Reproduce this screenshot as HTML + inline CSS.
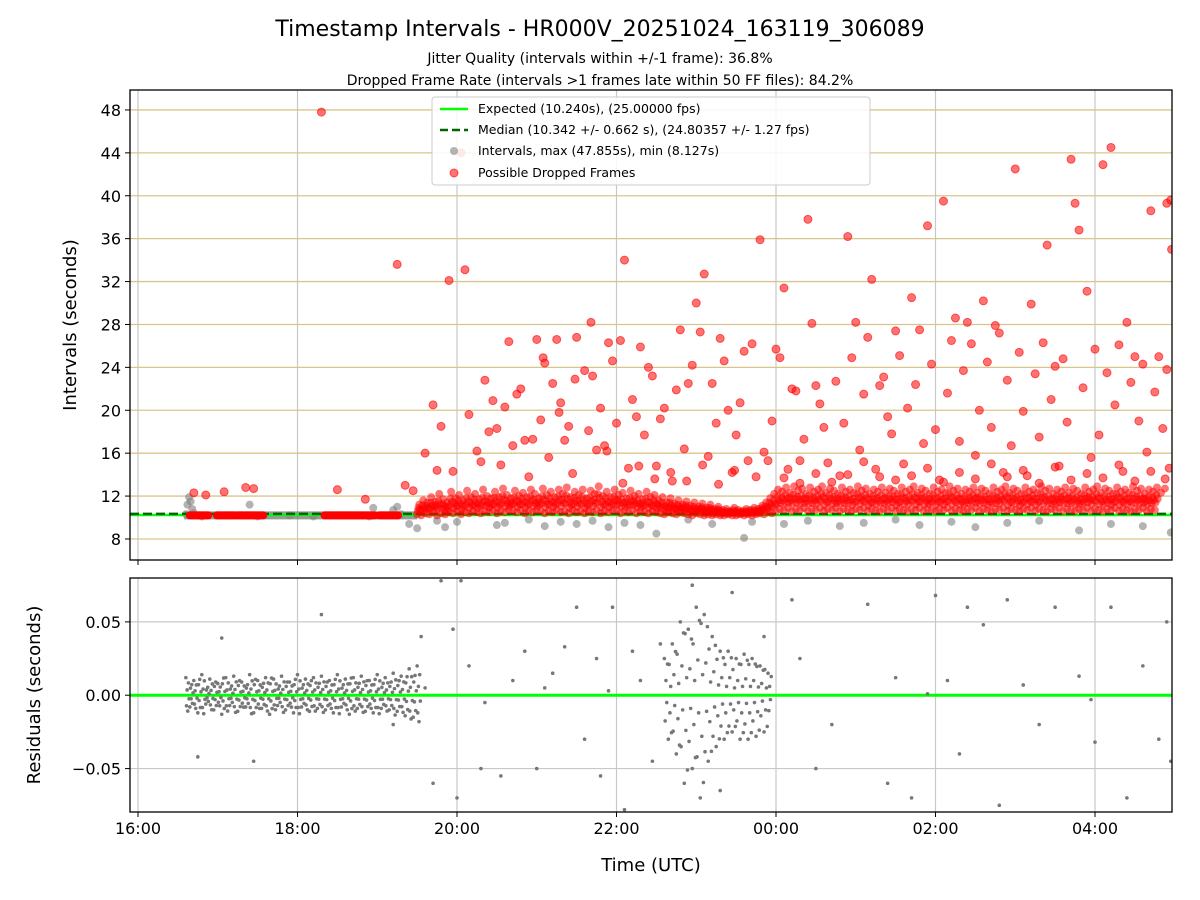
<!DOCTYPE html>
<html><head><meta charset="utf-8"><style>
body{margin:0;background:#fff;}
svg{display:block;font-family:"DejaVu Sans","Liberation Sans",sans-serif;}
</style></head><body>
<svg id="c" width="1200" height="900" viewBox="0 0 1200 900" xmlns="http://www.w3.org/2000/svg">
<rect width="1200" height="900" fill="#fff"/>
<text x="600" y="36" text-anchor="middle" font-size="22">Timestamp Intervals - HR000V_20251024_163119_306089</text>
<text x="600" y="63" text-anchor="middle" font-size="14">Jitter Quality (intervals within +/-1 frame): 36.8%</text>
<text x="600" y="85" text-anchor="middle" font-size="14">Dropped Frame Rate (intervals &gt;1 frames late within 50 FF files): 84.2%</text>
<g id="gtop"></g><g id="gbot"></g>
</svg>
<script>
// time in hours after 16:00 UTC
const xTickLabels=["16:00","18:00","20:00","22:00","00:00","02:00","04:00"];
const xTickHours=[0,2,4,6,8,10,12];
const yTopTicks=[8,12,16,20,24,28,32,36,40,44,48];
const yBotTicks=[-0.05,0.00,0.05];
const yBotLabels=["\u22120.05","0.00","0.05"];
const expected=10.24, median=10.342;
const segStart=[0.65,0.99,1.25,2.34,3.03];
const segEnd=[0.88,1.22,1.57,2.97,3.26];
const dropT=[2.3,3.25,3.9,4.1,4.05,3.7,3.8,4.3,4.4,4.6,4.8,5.0,5.1,5.2,5.4,5.5,5.7,5.9,6.1,6.2,6.4,6.6,6.8,6.9,7.0,7.1,7.3,7.4,7.6,7.8,8.0,8.1,8.2,8.4,8.6,8.9,9.0,9.2,9.3,9.5,9.7,9.9,10.1,10.2,10.4,10.6,10.8,11.0,11.2,11.4,11.5,11.7,11.75,11.8,11.9,12.1,12.2,12.4,12.5,12.7,12.9,12.95,12.96,
0.7,0.85,1.35,1.45,1.08,2.5,2.85,3.35,3.45,3.6,3.75,3.95,4.15,4.25,4.35,4.5,4.55,4.7,4.75,4.9,4.95,5.05,5.15,5.25,5.3,5.35,5.45,5.6,5.65,5.75,5.8,5.85,5.95,6.0,6.05,6.15,6.25,6.3,6.35,6.45,6.5,6.55,6.7,6.75,6.85,6.95,7.05,7.15,7.2,7.25,7.35,7.45,7.5,7.55,7.65,7.7,7.75,7.85,7.9,7.95,8.05,8.15,8.25,8.3,8.35,8.45,8.5,8.55,8.65,8.75,8.8,8.85,8.95,9.05,9.1,9.15,9.25,9.35,9.4,9.45,9.55,9.6,9.65,9.75,9.8,9.85,9.95,10.0,10.05,10.15,10.25,10.3,10.35,10.45,10.5,10.55,10.65,10.7,10.75,10.85,10.9,10.95,11.05,11.1,11.15,11.25,11.3,11.35,11.45,11.55,11.6,11.65,11.85,11.95,12.0,12.05,12.15,12.25,12.3,12.35,12.45,12.55,12.6,12.65,12.75,12.8,12.85,12.9,12.93,
4.45,4.65,4.85,5.08,5.28,5.48,5.68,5.88,6.08,6.28,6.48,6.68,6.88,7.08,7.28,7.48,8.1,8.3,8.5,8.7,8.9,9.1,9.3,9.5,9.7,9.9,10.1,10.3,10.5,10.7,10.9,11.1,11.3,11.5,11.7,11.9,12.1,12.3,12.5,12.7,12.88];
const dropV=[47.8,33.6,32.1,33.1,44,20.5,18.5,15.2,18,20.3,22,26.6,24.4,22.5,18.5,26.8,23.2,26.3,34,21,24,20.2,27.5,22.5,30,32.7,26.7,20,25.5,35.9,25.7,31.4,22,37.8,18.4,36.2,28.2,32.2,22.3,27.4,30.5,37.2,39.5,26.5,28.2,30.2,27.2,42.5,29.9,35.4,24.1,43.4,39.3,36.8,31.1,42.9,44.5,28.2,25,38.6,39.3,39.6,35,
12.3,12.1,12.8,12.7,12.4,12.6,11.7,13,12.5,16,14.4,14.3,19.6,16.2,22.8,18.3,14.9,16.7,21.5,13.8,17.3,19.1,15.6,26.6,20.7,17.2,14.1,23.7,18.1,16.3,20.2,16.7,24.6,18.8,26.5,14.6,19.4,25.9,17.7,23.2,14.8,19.2,13.4,21.9,16.4,24.2,27.3,15.7,22.5,18.8,24.6,14.2,17.7,20.7,15.3,26.2,13.8,16.1,15.3,19,24.9,14.5,21.8,13.2,17.3,28.1,22.3,20.6,15.1,22.7,13.9,18.8,24.9,16.3,21.5,26.8,14.5,23.1,19.4,17.8,25.1,15,20.2,22.4,27.5,16.9,24.3,18.2,13.5,21.6,28.6,17.1,23.7,26.2,15.8,20,24.5,18.4,27.9,14.2,22.8,16.7,25.4,19.9,13.9,23.4,17.5,26.3,21,14.8,24.8,18.9,22.1,15.6,25.7,17.7,23.5,20.5,26.1,14.3,22.6,19,24.3,16.1,21.7,25,18.3,23.8,14.6,20.9,26.4,17.2,24.9,19.8,22.9,28.2,16.2,
13.2,14.8,13.6,14.2,13.4,14.9,13.1,14.4,13.7,15.3,14.1,13.3,14,15.2,13.8,13.5,13.9,14.6,13.3,14.2,13.6,15,13.8,14.4,13.2,14.7,13.5,14.1,13.7,14.9,13.4,14.3,13.6,14.8,13.9,14.5,13.3,14.2,13.8,14.6,13.5];
const bandSrcT=[3.5,3.55,3.6,3.65,3.7,3.75,3.8,3.85,3.9,3.95,4.0,4.05,4.1,4.15,4.2,4.25,4.3,4.35,4.4,4.45,4.5,4.55,4.6,4.65,4.7,4.75,4.8,4.85,4.9,4.95,5.0,5.05,5.1,5.15,5.2,5.25,5.3,5.35,5.4,5.45,5.5,5.55,5.6,5.65,5.7,5.75,5.8,5.85,5.9,5.95,6.0,6.05,6.1,6.15,6.2,6.25,6.3,6.35,6.4,6.45,6.5,6.55,6.6,6.65,6.7,6.75,6.8,6.85,6.9,6.95,7.0,7.05,7.1,7.15,7.2,7.25,7.3,7.35,7.4,7.45,7.5,7.55,7.6,7.65,7.7,7.75,7.8,7.85,7.9,7.95,8.0,8.05,8.1,8.15,8.2,8.25,8.3,8.35,8.4,8.45,8.5,8.55,8.6,8.65,8.7,8.75,8.8,8.85,8.9,8.95,9.0,9.05,9.1,9.15,9.2,9.25,9.3,9.35,9.4,9.45,9.5,9.55,9.6,9.65,9.7,9.75,9.8,9.85,9.9,9.95,10.0,10.05,10.1,10.15,10.2,10.25,10.3,10.35,10.4,10.45,10.5,10.55,10.6,10.65,10.7,10.75,10.8,10.85,10.9,10.95,11.0,11.05,11.1,11.15,11.2,11.25,11.3,11.35,11.4,11.45,11.5,11.55,11.6,11.65,11.7,11.75,11.8,11.85,11.9,11.95,12.0,12.05,12.1,12.15,12.2,12.25,12.3,12.35,12.4,12.45,12.5,12.55,12.6,12.65,12.7,12.75,12.8,12.85,12.9,12.95];
const bandLo=[10.3,10.2,10.4,10.3,10.5,10.2,10.4,10.3,10.5,10.4,10.6,10.3,10.5,10.4,10.6,10.5,10.4,10.6,10.5,10.7,10.4,10.6,10.5,10.7,10.6,10.5,10.7,10.4,10.6,10.5,10.7,10.6,10.4,10.6,10.5,10.7,10.5,10.6,10.4,10.7,10.5,10.6,10.4,10.6,10.5,10.7,10.4,10.6,10.5,10.6,10.7,10.4,10.6,10.5,10.7,10.4,10.6,10.5,10.4,10.6,10.5,10.4,10.3,10.5,10.4,10.3,10.5,10.4,10.3,10.2,10.4,10.3,10.2,10.3,10.2,10.3,10.2,10.2,10.3,10.2,10.2,10.3,10.2,10.3,10.2,10.3,10.4,10.3,10.5,10.4,10.6,10.8,10.7,10.9,10.6,10.8,10.7,10.9,10.6,10.8,10.7,10.9,10.6,10.8,10.7,10.9,10.6,10.8,10.7,10.6,10.8,10.7,10.9,10.6,10.8,10.7,10.6,10.8,10.7,10.9,10.6,10.8,10.7,10.6,10.8,10.7,10.9,10.6,10.8,10.7,10.6,10.8,10.7,10.9,10.6,10.8,10.7,10.6,10.8,10.7,10.9,10.6,10.8,10.7,10.6,10.8,10.7,10.9,10.6,10.8,10.7,10.6,10.8,10.7,10.9,10.6,10.8,10.7,10.6,10.8,10.7,10.9,10.6,10.8,10.7,10.6,10.8,10.7,10.9,10.6,10.8,10.7,10.6,10.8,10.7,10.9,10.6,10.8,10.7,10.6,10.8,10.7,10.9,10.6,10.8,10.7];
const bandHi=[11.2,11.6,11.4,11.9,11.5,12.2,11.7,11.4,12.4,11.8,12.1,11.6,12.5,11.9,12.2,11.7,12.6,12,11.8,12.4,11.9,12.7,12.1,11.8,12.5,12,12.3,11.9,12.6,12.2,11.8,12.7,12.1,12.4,11.9,12.6,12.2,12.8,11.9,12.4,12.1,12.6,11.8,12.5,12.2,12.9,12,12.4,11.9,12.6,12.1,12.3,11.8,12.5,12,12.2,11.7,12.4,11.9,12.1,11.6,11.9,11.4,11.8,11.3,11.6,11.2,11.5,11.1,11.4,11,11.3,10.9,11.2,10.8,11,10.7,10.8,10.6,10.9,10.7,10.6,10.8,10.7,10.9,10.8,11.1,11.4,11.8,12.2,12.6,12.4,12.8,12.3,12.9,12.5,12.7,12.2,12.8,12.4,12.6,12.9,12.3,12.7,12.5,12.2,12.8,12.4,12.6,12.3,12.9,12.5,12.7,12.2,12.6,12.4,12.8,12.3,12.7,12.5,12.2,12.8,12.4,12.6,12.9,12.3,12.7,12.5,12.2,12.8,12.4,12.6,12.3,12.9,12.5,12.7,12.2,12.6,12.4,12.8,12.3,12.7,12.5,12.2,12.8,12.4,12.6,12.9,12.3,12.7,12.5,12.2,12.8,12.4,12.6,12.3,12.9,12.5,12.7,12.2,12.6,12.4,12.8,12.3,12.7,12.5,12.2,12.8,12.4,12.6,12.9,12.3,12.7,12.5,12.2,12.8,12.4,12.6,12.3,12.9,12.5,12.7,12.2,12.6,12.4,12.8,12.3,12.7];
const grayT=[0.6,0.62,0.64,0.66,0.68,0.7,1.4,2.55,2.95,3.0,3.2,3.25,3.3,3.4,3.5,3.75,3.85,4.0,4.5,4.6,4.9,5.1,5.3,5.5,5.7,5.9,6.1,6.3,6.5,6.9,7.2,7.6,7.7,8.1,8.4,8.8,9.1,9.5,9.8,10.2,10.5,10.9,11.3,11.8,12.2,12.6,12.95,0.8,1.1,1.5,1.9,2.2,2.6,2.9];
const grayV=[10.3,11.2,11.9,11.5,10.8,10.4,11.2,10.2,10.9,10.2,10.7,11,10.3,9.4,9,9.7,9.1,9.6,9.3,9.5,9.8,9.2,9.6,9.4,9.7,9.1,9.5,9.3,8.5,9.8,9.4,8.1,9.6,9.4,9.7,9.2,9.5,9.8,9.3,9.6,9.1,9.5,9.7,8.8,9.4,9.2,8.6,10.1,10.2,10.1,10.2,10.1,10.2,10.1];
const resT=[0.6,0.65,0.7,0.75,0.8,0.85,0.9,0.95,1.0,1.05,1.1,1.15,1.2,1.25,1.3,1.35,1.4,1.45,1.5,1.55,1.6,1.65,1.7,1.75,1.8,1.85,1.9,1.95,2.0,2.05,2.1,2.15,2.2,2.25,2.3,2.35,2.4,2.45,2.5,2.55,2.6,2.65,2.7,2.75,2.8,2.85,2.9,2.95,3.0,3.05,3.1,3.15,3.2,3.25,3.3,3.35,3.4,3.45,3.5];
const resA=[0.012,-0.008,0.01,-0.012,0.014,-0.006,0.011,-0.01,0.008,-0.013,0.012,-0.007,0.013,-0.011,0.009,-0.008,0.014,-0.012,0.01,-0.009,0.012,-0.013,0.011,-0.007,0.013,-0.01,0.009,-0.012,0.014,-0.008,0.011,-0.011,0.012,-0.009,0.013,-0.01,0.01,-0.012,0.014,-0.008,0.011,-0.013,0.012,-0.009,0.013,-0.011,0.01,-0.012,0.014,-0.009,0.012,-0.01,0.015,-0.011,0.013,-0.014,0.018,-0.015,0.02];
const res2T=[6.6,6.65,6.7,6.75,6.8,6.85,6.9,6.95,7.0,7.05,7.1,7.15,7.2,7.25,7.3,7.35,7.4,7.45,7.5,7.55,7.6,7.65,7.7,7.75,7.8,7.85,7.9];
const res2A=[0.025,-0.03,0.035,-0.04,0.05,-0.06,0.045,-0.05,0.06,-0.07,0.055,-0.045,0.04,-0.035,0.03,-0.03,0.03,-0.025,0.025,-0.03,0.028,-0.03,0.025,-0.028,0.02,-0.025,0.015];
const scatT=[0.75,1.05,1.45,2.3,3.2,3.55,3.7,3.8,3.95,4.0,4.05,4.15,4.3,4.55,4.7,4.85,5.0,5.2,5.35,5.5,5.6,5.75,5.8,5.95,6.1,6.2,6.3,6.45,6.55,6.95,7.3,7.45,7.85,8.2,8.5,8.7,9.15,9.4,9.5,9.7,10.0,10.15,10.3,10.4,10.8,10.9,11.1,11.3,11.5,11.8,12.0,12.2,12.4,12.6,12.8,12.9,12.95,3.6,4.35,5.1,5.9,9.9,11.95,8.3,10.6];
const scatV=[-0.042,0.039,-0.045,0.055,-0.02,0.04,-0.06,0.078,0.045,-0.07,0.078,0.02,-0.05,-0.055,0.01,0.03,-0.05,0.015,0.033,0.06,-0.03,0.025,-0.055,0.06,-0.078,0.03,0.01,-0.045,0.035,0.075,-0.065,0.07,0.04,0.065,-0.05,-0.02,0.062,-0.06,0.012,-0.07,0.068,0.01,-0.04,0.06,-0.075,0.065,0.007,-0.02,0.06,0.013,-0.032,0.06,-0.07,0.02,-0.03,0.05,-0.045,0.005,-0.005,0.005,0.003,0.001,-0.003,0.025,0.048];

const NS="http://www.w3.org/2000/svg";
const L=130,R=1172,T1=90,B1=560,T2=578,B2=812;
const tMin=-8/79.75, tMax=tMin+(R-L)/79.75;
const x=t=>L+(t-tMin)*(R-L)/(tMax-tMin);
const y1=v=>B1-(v-6.04)*(B1-T1)/(49.86-6.04);
const y2=v=>B2-(v+0.0796)*(B2-T2)/(0.1595);
function mk(p,tag,a){const e=document.createElementNS(NS,tag);for(const k in a)e.setAttribute(k,a[k]);p.appendChild(e);return e;}
const gTop=document.getElementById('gtop'), gBot=document.getElementById('gbot');
const svgDefs=mk(document.getElementById('c'),'defs',{});
const c1=mk(svgDefs,'clipPath',{id:'cl1'});mk(c1,'rect',{x:L,y:T1,width:R-L,height:B1-T1});
const c2=mk(svgDefs,'clipPath',{id:'cl2'});mk(c2,'rect',{x:L,y:T2,width:R-L,height:B2-T2});
xTickHours.forEach((h,i)=>{
 [[T1,B1,gTop],[T2,B2,gBot]].forEach(([a,b,g])=>{
  const ln=mk(g,'line',{x1:x(h),x2:x(h),y1:a,y2:b,stroke:'#c8c8c8','stroke-width':1.2});
  
  
  const tk=mk(g,'line',{x1:x(h),x2:x(h),y1:b,y2:b+5,stroke:'#000'});
  
  
 });
 const tx=mk(gBot,'text',{x:x(h),y:B2+22,'text-anchor':'middle','font-size':16});tx.textContent=xTickLabels[i];
 
 
});
yTopTicks.forEach(v=>{
 const ln=mk(gTop,'line',{x1:L,x2:R,y1:y1(v),y2:y1(v),stroke:'#d9c58c','stroke-width':1.3});
 
 
 mk(gTop,'line',{x1:L-5,x2:L,y1:y1(v),y2:y1(v),stroke:'#000'});
 const tx=mk(gTop,'text',{x:L-9,y:y1(v)+6,'text-anchor':'end','font-size':16});tx.textContent=v;
 
 
});
yBotTicks.forEach((v,i)=>{
 const ln=mk(gBot,'line',{x1:L,x2:R,y1:y2(v),y2:y2(v),stroke:'#c8c8c8','stroke-width':1.2});
 
 
 mk(gBot,'line',{x1:L-5,x2:L,y1:y2(v),y2:y2(v),stroke:'#000'});
 const tx=mk(gBot,'text',{x:L-9,y:y2(v)+6,'text-anchor':'end','font-size':16});tx.textContent=yBotLabels[i];
 
 
});
const g1=mk(gTop,'g',{'clip-path':'url(#cl1)'});


const g2=mk(gBot,'g',{'clip-path':'url(#cl2)'});


grayT.forEach((t,i)=>{const c=mk(g1,'circle',{cx:x(t),cy:y1(grayV[i]),r:4,fill:'rgba(128,128,128,0.6)'});
 
 });
const gb=mk(g1,'line',{x1:x(0.58),x2:x(3.5),y1:y1(10.2),y2:y1(10.2),stroke:'rgba(128,128,128,0.8)','stroke-width':8});


const el=mk(g1,'line',{x1:L,x2:R,y1:y1(expected),y2:y1(expected),stroke:'#00ff00','stroke-width':2.5});


const ml=mk(g1,'line',{x1:L,x2:R,y1:y1(median),y2:y1(median),stroke:'#006400','stroke-width':2.5,'stroke-dasharray':'9,4'});


bandSrcT.forEach((t,i)=>{
 const lo=bandLo[i],hi=bandHi[i];
 [lo,(lo*2+hi)/3,(lo+hi*2)/3,hi,(lo+hi)/2].forEach((v,k)=>{
  const c=mk(g1,'circle',{cx:x(t+k*0.009),cy:y1(v),r:4,fill:'rgba(255,0,0,0.55)'});
  
  
 });
});
segStart.forEach((s,i)=>{const ln=mk(g1,'line',{x1:x(s),x2:x(segEnd[i]),y1:y1(10.2),y2:y1(10.2),stroke:'#ff0000','stroke-width':8,'stroke-linecap':'round'});
 
 });
dropT.forEach((t,i)=>{const c=mk(g1,'circle',{cx:x(t),cy:y1(dropV[i]),r:4,fill:'rgba(255,0,0,0.55)',stroke:'rgba(255,0,0,0.6)'});
 
 });
const zl=mk(g2,'line',{x1:L,x2:R,y1:y2(0),y2:y2(0),stroke:'#00ff00','stroke-width':3});


function rdot(t,v){const c=mk(g2,'circle',{cx:x(t),cy:y2(v),r:1.8,fill:'#777'});
 
 }
resT.forEach((t,i)=>{[1,-0.6,0.3,-0.9,0.7,-0.2].forEach((f,k)=>rdot(t+k*0.008,resA[i]*f));});
res2T.forEach((t,i)=>{[1,-0.7,0.4,-0.2,0.85].forEach((f,k)=>rdot(t+k*0.01,res2A[i]*f));});
scatT.forEach((t,i)=>rdot(t,scatV[i]));
[[T1,B1,gTop,'interval-axes-frame'],[T2,B2,gBot,'residual-axes-frame']].forEach(([a,b,g,n])=>{
 const r=mk(g,'rect',{x:L,y:a,width:R-L,height:b-a,fill:'none',stroke:'#000','stroke-width':1.3});
 
 });
</script>
<svg style="position:absolute;left:0;top:0" width="1200" height="900">
<text transform="translate(76,325) rotate(-90)" text-anchor="middle" font-size="18" font-family="DejaVu Sans,sans-serif">Intervals (seconds)</text>
<text transform="translate(40,695) rotate(-90)" text-anchor="middle" font-size="18" font-family="DejaVu Sans,sans-serif">Residuals (seconds)</text>
<text x="651" y="871" text-anchor="middle" font-size="18" font-family="DejaVu Sans,sans-serif">Time (UTC)</text>
<g font-family="DejaVu Sans,sans-serif" font-size="12.5">
<rect x="432" y="97" width="438" height="88" rx="3" fill="rgba(255,255,255,0.85)" stroke="#ccc"/>
<line x1="440" y1="109" x2="468" y2="109" stroke="#00ff00" stroke-width="2.5"/>
<text x="478" y="113">Expected (10.240s), (25.00000 fps)</text>
<line x1="440" y1="130" x2="468" y2="130" stroke="#006400" stroke-width="2.5" stroke-dasharray="8,4"/>
<text x="478" y="134">Median (10.342 +/- 0.662 s), (24.80357 +/- 1.27 fps)</text>
<circle cx="454" cy="151" r="4" fill="rgba(128,128,128,0.6)"/>
<text x="478" y="155">Intervals, max (47.855s), min (8.127s)</text>
<circle cx="454" cy="173" r="4" fill="rgba(255,0,0,0.55)" stroke="rgba(255,0,0,0.6)"/>
<text x="478" y="177">Possible Dropped Frames</text>
</g>
</svg>
</body></html>
